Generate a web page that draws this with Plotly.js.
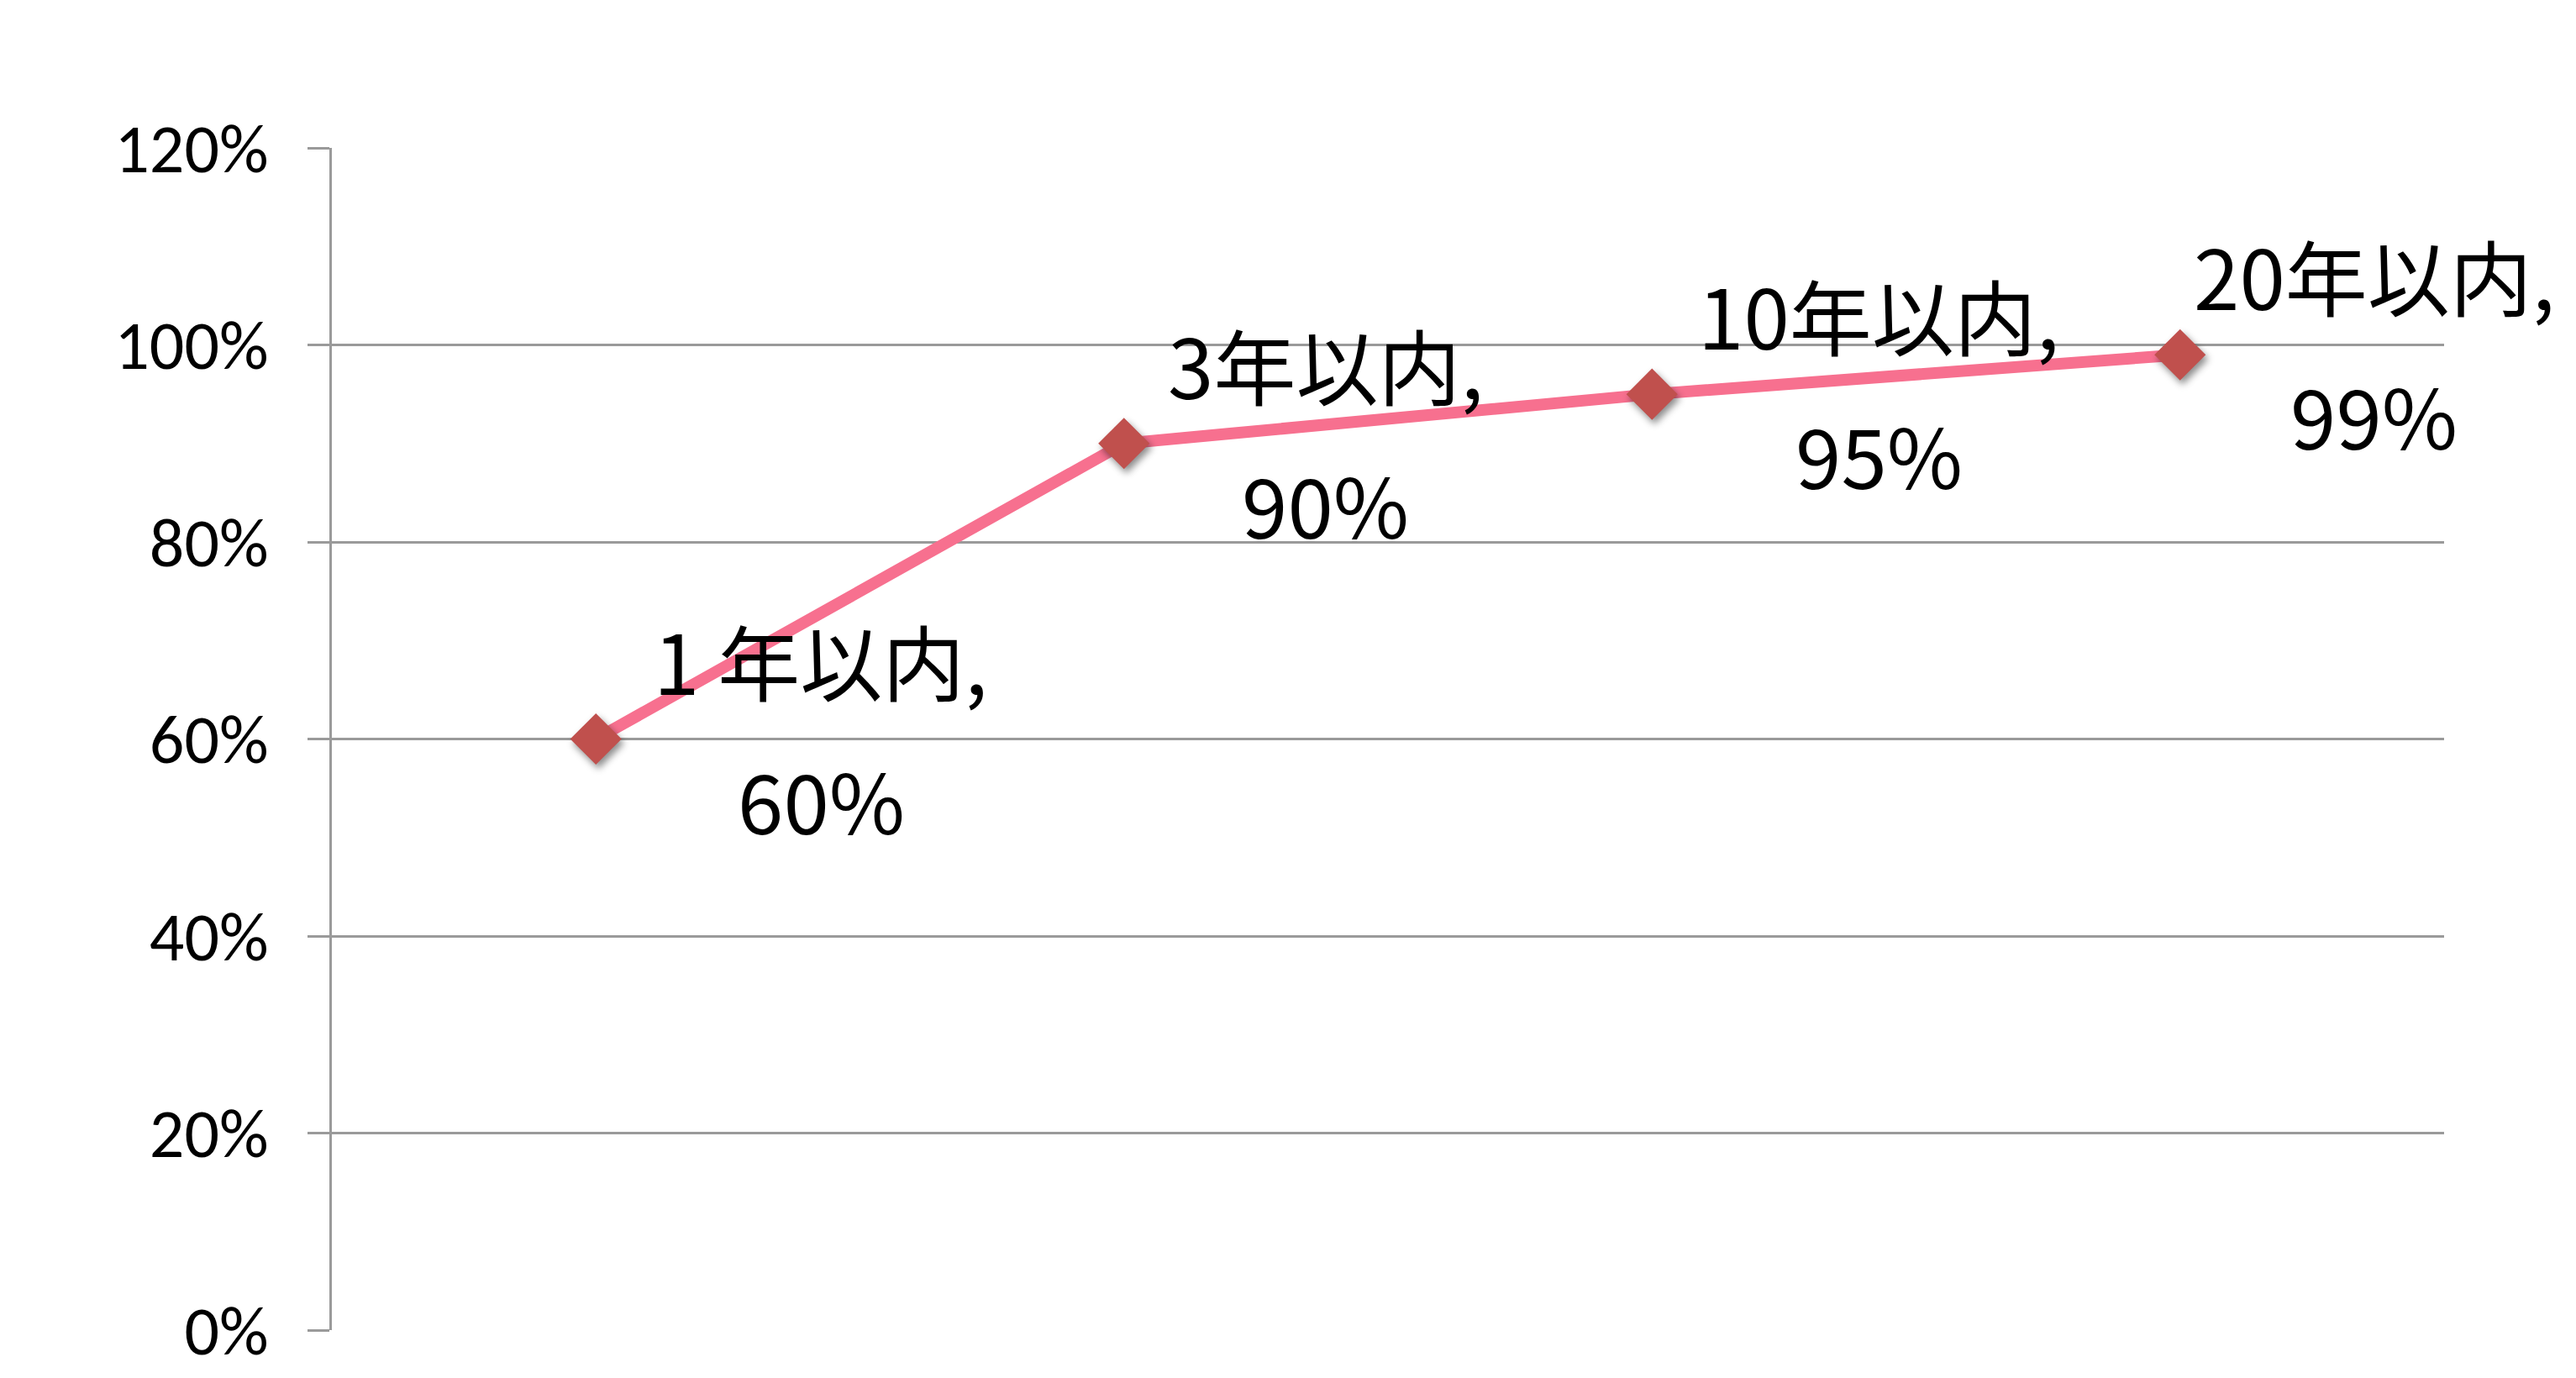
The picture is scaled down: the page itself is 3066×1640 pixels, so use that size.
<!DOCTYPE html>
<html>
<head>
<meta charset="utf-8">
<script src="https://cdn.plot.ly/plotly-3.0.1.min.js"></script>
<style>
html,body{margin:0;padding:0;background:#fff;}
#chart{width:3066px;height:1640px;}
</style>
</head>
<body>
<div id="chart"></div>
<script>
// Data
const categories = ["1 年以内", "3年以内", "10年以内", "20年以内"];
const values = [0.60, 0.90, 0.95, 0.99];
const yTickValues = [0, 0.2, 0.4, 0.6, 0.8, 1.0, 1.2];

// Label placement (style)
const labelXShift = [268, 240, 270, 231];
const labelFont = {family: "Noto Sans CJK JP, Noto Sans, sans-serif", size: 98, color: "#000"};

const annotations = [];
categories.forEach((c, i) => {
  annotations.push({
    x: c, y: values[i], xref: "x", yref: "y",
    text: c + ",", showarrow: false, xanchor: "center", yanchor: "middle",
    xshift: labelXShift[i], yshift: 96, font: labelFont
  });
  annotations.push({
    x: c, y: values[i], xref: "x", yref: "y",
    text: Math.round(values[i] * 100) + "%", showarrow: false, xanchor: "center", yanchor: "middle",
    xshift: labelXShift[i], yshift: -70, font: labelFont
  });
});

const trace = {
  x: categories,
  y: values,
  type: "scatter",
  mode: "lines+markers",
  line: {color: "#F7708F", width: 14},
  marker: {symbol: "diamond", size: 47, color: "#C0504D"},
  hoverinfo: "none",
  cliponaxis: false
};

const layout = {
  width: 3066, height: 1640,
  margin: {l: 395, r: 157, t: 176, b: 57, pad: 0},
  paper_bgcolor: "#fff", plot_bgcolor: "#fff",
  showlegend: false,
  xaxis: {
    type: "category",
    range: [-0.5, 3.5],
    showticklabels: false,
    showgrid: false,
    zeroline: false,
    showline: false,
    ticks: "",
    fixedrange: true
  },
  yaxis: {
    range: [0, 1.2],
    tickvals: yTickValues,
    tickformat: ".0%",
    showgrid: true,
    gridcolor: "#9a9a9a",
    gridwidth: 3,
    zeroline: false,
    showline: true,
    linecolor: "#9a9a9a",
    linewidth: 3,
    ticks: "outside",
    ticklen: 26,
    tickwidth: 3,
    tickcolor: "#9a9a9a",
    ticklabelstandoff: 30,
    tickfont: {family: "Carlito, Lato, sans-serif", size: 82, color: "#000"},
    fixedrange: true
  },
  annotations: annotations
};

Plotly.newPlot("chart", [trace], layout, {staticPlot: true, displayModeBar: false}).then(() => {
  document.querySelectorAll(".scatterlayer .point").forEach(p => {
    p.style.filter = "drop-shadow(3px 5px 4px rgba(0,0,0,0.45))";
  });
});
</script>
</body>
</html>
